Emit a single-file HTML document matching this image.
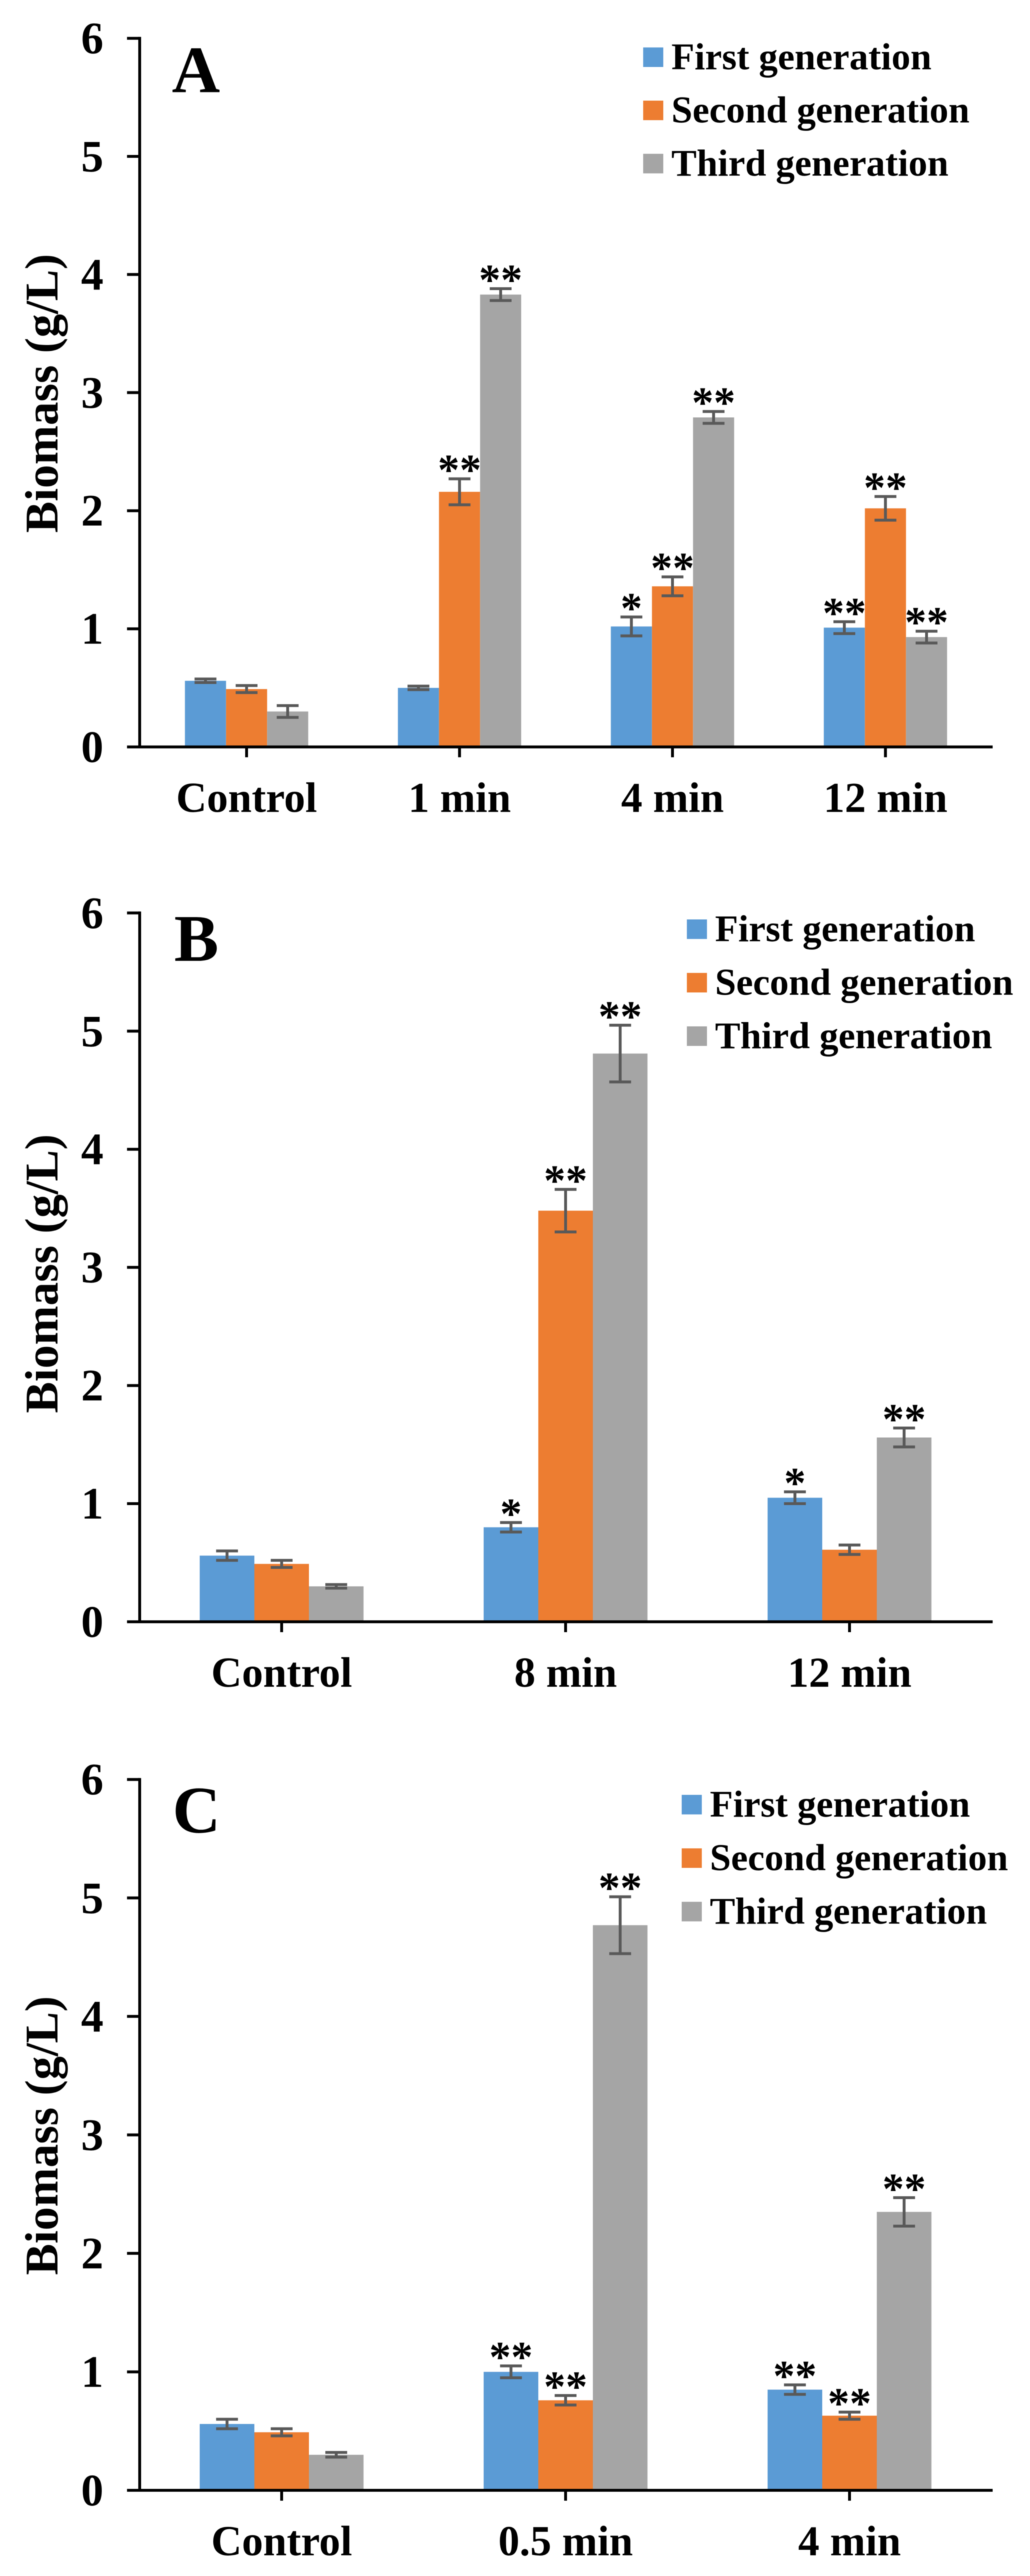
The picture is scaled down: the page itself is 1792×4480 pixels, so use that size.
<!DOCTYPE html>
<html lang="en">
<head>
<meta charset="utf-8">
<title>Biomass by generation</title>
<style>
html,body{margin:0;padding:0;background:#fff;width:1792px;height:4480px;overflow:hidden}
#figure{display:block;filter:blur(0.8px)}
text{font-family:"Liberation Serif",serif;font-weight:bold;fill:#000}
</style>
</head>
<body>
<svg id="figure" xmlns="http://www.w3.org/2000/svg" width="1792" height="4480" viewBox="0 0 1792 4480"></svg>
<script>
// Shared data
const seriesNames = ['First generation', 'Second generation', 'Third generation'];
const seriesColors = ['#5B9BD5', '#ED7D31', '#A5A5A5'];
const yTickLabels = [0, 1, 2, 3, 4, 5, 6];

// Panel A
const categoriesA = ['Control', '1 min', '4 min', '12 min'];
const firstA = [0.56, 0.50, 1.02, 1.01];
const secondA = [0.49, 2.16, 1.36, 2.02];
const thirdA = [0.30, 3.83, 2.79, 0.93];
const firstErrA = [0.015, 0.015, 0.08, 0.05];
const secondErrA = [0.03, 0.11, 0.08, 0.10];
const thirdErrA = [0.05, 0.05, 0.05, 0.05];
const firstStarsA = ['', '', '*', '**'];
const secondStarsA = ['', '**', '**', '**'];
const thirdStarsA = ['', '**', '**', '**'];

// Panel B
const categoriesB = ['Control', '8 min', '12 min'];
const firstB = [0.56, 0.80, 1.05];
const secondB = [0.49, 3.48, 0.61];
const thirdB = [0.30, 4.81, 1.56];
const firstErrB = [0.04, 0.04, 0.05];
const secondErrB = [0.03, 0.18, 0.04];
const thirdErrB = [0.015, 0.24, 0.08];
const firstStarsB = ['', '*', '*'];
const secondStarsB = ['', '**', ''];
const thirdStarsB = ['', '**', '**'];

// Panel C
const categoriesC = ['Control', '0.5 min', '4 min'];
const firstC = [0.56, 1.00, 0.85];
const secondC = [0.49, 0.76, 0.63];
const thirdC = [0.30, 4.77, 2.35];
const firstErrC = [0.04, 0.05, 0.04];
const secondErrC = [0.03, 0.04, 0.03];
const thirdErrC = [0.02, 0.24, 0.12];
const firstStarsC = ['', '**', '**'];
const secondStarsC = ['', '**', '**'];
const thirdStarsC = ['', '**', '**'];

const NS = 'http://www.w3.org/2000/svg';
const root = document.getElementById('figure');

function mk(tag, attrs, parent, txt) {
  const el = document.createElementNS(NS, tag);
  for (const k in attrs) el.setAttribute(k, attrs[k]);
  if (txt !== undefined) el.textContent = txt;
  parent.appendChild(el);
  return el;
}

function drawPanel(p) {
  const g = mk('g', {}, root);
  
  

  const yScale = v => p.y0 - v * (p.y0 - p.y6) / 6;
  const xCenter = i => p.firstCenter + i * p.pitch;
  const seriesValues = [p.first, p.second, p.third];
  const seriesErrs = [p.firstErr, p.secondErr, p.thirdErr];
  const seriesStars = [p.firstStars, p.secondStars, p.thirdStars];

  // bars
  seriesValues.forEach((vals, s) => {
    vals.forEach((v, i) => {
      const x = xCenter(i) + (s - 1.5) * p.barW;
      const bar = mk('rect', {x: x, y: yScale(v), width: p.barW, height: p.y0 - yScale(v), fill: seriesColors[s]}, g);
      
      
    });
  });

  // error bars and significance stars
  seriesValues.forEach((vals, s) => {
    vals.forEach((v, i) => {
      const cx = xCenter(i) + (s - 1) * p.barW;
      const e = seriesErrs[s][i];
      const top = yScale(v + e);
      const bot = yScale(v - e);
      const err = mk('path', {
        d: 'M' + (cx - 19) + ' ' + top + 'H' + (cx + 19) + 'M' + cx + ' ' + top + 'V' + bot + 'M' + (cx - 19) + ' ' + bot + 'H' + (cx + 19),
        stroke: '#595959', 'stroke-width': 5, fill: 'none'
      }, g);
      
      
      const stars = seriesStars[s][i];
      if (stars) {
        const st = mk('text', {x: cx, y: top + 10, 'text-anchor': 'middle', 'font-size': 76}, g, stars);
        
        
      }
    });
  });

  // axes
  const yAxis = mk('line', {x1: p.axisX, x2: p.axisX, y1: p.y6 - 2.5, y2: p.y0, stroke: '#000', 'stroke-width': 5}, g);
  
  
  const xAxis = mk('line', {x1: p.axisX - 22, x2: 1727, y1: p.y0, y2: p.y0, stroke: '#000', 'stroke-width': 5}, g);
  
  

  yTickLabels.forEach(t => {
    const tick = mk('line', {x1: p.axisX - 22, x2: p.axisX, y1: yScale(t), y2: yScale(t), stroke: '#000', 'stroke-width': 5}, g);
    
    
    const lab = mk('text', {x: 180, y: yScale(t) + 26, 'text-anchor': 'end', 'font-size': 78}, g, String(t));
    
    
  });

  p.cats.forEach((c, i) => {
    const tick = mk('line', {x1: xCenter(i), x2: xCenter(i), y1: p.y0, y2: p.y0 + 18, stroke: '#000', 'stroke-width': 5}, g);
    
    
    const lab = mk('text', {x: xCenter(i), y: p.y0 + 113, 'text-anchor': 'middle', 'font-size': 74}, g, c);
    
    
  });

  // y axis title
  const title = mk('text', {
    transform: 'translate(100 ' + p.titleY + ') rotate(-90)',
    'text-anchor': 'middle', 'font-size': 82
  }, g, 'Biomass (g/L)');
  
  

  // panel letter
  const letter = mk('text', {x: p.letterX, y: p.letterY, 'font-size': 116}, g, p.letter);
  
  

  // legend
  seriesNames.forEach((n, s) => {
    const ly = p.legendY + s * p.legendStep;
    const sw = mk('rect', {x: p.legendX, y: ly - 38, width: 35, height: 34, fill: seriesColors[s]}, g);
    
    
    const tx = mk('text', {x: p.legendX + 49, y: ly, 'font-size': 66}, g, n);
    
    
  });
}

drawPanel({
  letter: 'A', letterX: 299, letterY: 160,
  cats: categoriesA, first: firstA, second: secondA, third: thirdA,
  firstErr: firstErrA, secondErr: secondErrA, thirdErr: thirdErrA,
  firstStars: firstStarsA, secondStars: secondStarsA, thirdStars: thirdStarsA,
  axisX: 243, y0: 1299, y6: 66.6, firstCenter: 429, pitch: 370.5, barW: 71.5,
  titleY: 684, legendX: 1119, legendY: 120.5, legendStep: 92.5
});
drawPanel({
  letter: 'B', letterX: 303, letterY: 1671,
  cats: categoriesB, first: firstB, second: secondB, third: thirdB,
  firstErr: firstErrB, secondErr: secondErrB, thirdErr: thirdErrB,
  firstStars: firstStarsB, secondStars: secondStarsB, thirdStars: thirdStarsB,
  axisX: 243, y0: 2820.5, y6: 1587.8, firstCenter: 490, pitch: 494, barW: 95,
  titleY: 2215, legendX: 1195, legendY: 1637, legendStep: 93
});
drawPanel({
  letter: 'C', letterX: 300, letterY: 3187,
  cats: categoriesC, first: firstC, second: secondC, third: thirdC,
  firstErr: firstErrC, secondErr: secondErrC, thirdErr: thirdErrC,
  firstStars: firstStarsC, secondStars: secondStarsC, thirdStars: thirdStarsC,
  axisX: 243, y0: 4331, y6: 3094.7, firstCenter: 490, pitch: 494, barW: 95,
  titleY: 3714, legendX: 1186, legendY: 3159.5, legendStep: 93
});
</script>
</body>
</html>
